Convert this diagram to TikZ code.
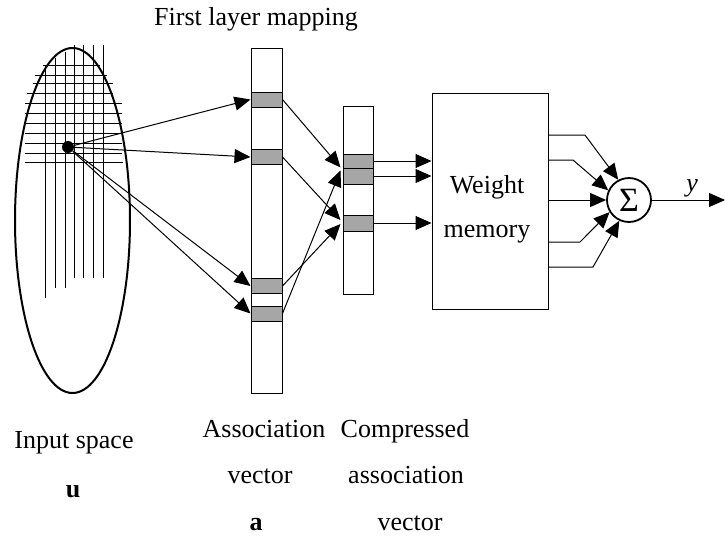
\documentclass[tikz,border=0pt]{standalone}
\usepackage{fontspec}
\setmainfont{Liberation Serif}
\usetikzlibrary{arrows.meta,shapes.geometric,calc}

\begin{document}
\begin{tikzpicture}[
  x=0.5pt,y=-0.5pt,>={Triangle[length=8pt,width=7pt]},
  font=\fontsize{13}{15}\selectfont,
  wire/.style={->,line width=0.5pt},
  grid line/.style={line width=0.5pt},
  bar/.style={draw,line width=0.5pt,minimum width=15.5pt,inner sep=0pt},
  cell/.style={draw,line width=0.5pt,fill=black!35,minimum width=15.5pt,inner sep=0pt},
  lbl/.style={anchor=base,inner sep=0pt}]
  \useasboundingbox (0,0) rectangle (725,537);

  % input space with its grid
  \node[ellipse,draw,line width=1pt,minimum width=57.5pt,minimum height=172.5pt,inner sep=0pt] (space) at (72.5,220.5) {};
  \foreach \y/\xa/\xb in {65/43/100,75/35/107,83/33/113,93/27/113,103/25/122,113/25/122,
                          123/25/122,133/25/122,143/25/122,153/25/122,162/25/123}
    \draw[grid line] (\xa,\y) -- (\xb,\y);
  \foreach \x/\ya/\yb in {45/65/298,55/58/288,65/52/288,74/45/278,83/45/278,93/45/278,103/45/278}
    \draw[grid line] (\x,\ya) -- (\x,\yb);
  \node[circle,fill,inner sep=0pt,minimum size=6pt] (pt) at (68,147) {};

  % association vector
  \node[bar,minimum height=172.5pt] (avec) at (266.5,220.5) {};
  \node[cell,minimum height=7.5pt] (a1) at (266.5,99.5) {};
  \node[cell,minimum height=7.5pt] (a2) at (266.5,157) {};
  \node[cell,minimum height=7.5pt] (a3) at (266.5,286) {};
  \node[cell,minimum height=7.5pt] (a4) at (266.5,313.5) {};

  % compressed association vector
  \node[bar,minimum width=15pt,minimum height=94pt] (cvec) at (358,200) {};
  \node[cell,minimum width=15pt,minimum height=7pt] (cc1) at (358,161) {};
  \node[cell,minimum width=15pt,minimum height=8pt] (cc2) at (358,176) {};
  \node[cell,minimum width=15pt,minimum height=8pt] (cc3) at (358,223) {};

  % weight memory and sum
  \node[draw,line width=0.5pt,minimum width=58pt,minimum height=108pt] (wm) at (490,201) {};
  \node[align=center,font=\fontsize{13}{22}\selectfont] (wmtxt) at (487,209) {Weight\\memory};
  \node[circle,draw,line width=0.9pt,minimum size=22pt,inner sep=0pt,font=\fontsize{17}{17}\selectfont] (sum) at (629,200) {Σ};
  \coordinate (out) at (725,200);

  \foreach \c in {a1,a2,a3,a4}
    \draw[wire] (pt) -- (\c.west);
  \draw[wire] (a1.east) -- ($(cc1.south west)+(-2,-1)$);
  \draw[wire] (a4.east) -- ($(cc1.south west)+(-2,2)$);
  \draw[wire] (a2.east) -- ($(cc3.west)+(-2,-3)$);
  \draw[wire] (a3.east) -- ($(cc3.west)+(-2,1)$);
  \foreach \c in {cc1,cc2,cc3}
    \draw[wire] (\c.east) -- (\c.east -| wm.west);

  \draw[wire] (wm.east |- 0,135) -- (585,135) -- (sum.118);
  \draw[wire] (wm.east |- 0,160) -- (573,160) -- (sum.155);
  \draw[wire] (wm.east |- sum.west) -- (sum.west);
  \draw[wire] (wm.east |- 0,242) -- (580,242) -- (sum.212);
  \draw[wire] (wm.east |- 0,267) -- (593,267) -- (sum.245);
  \draw[wire] (sum.east) -- node[pos=0.55,above,inner sep=1pt] (ylbl) {\textit{y}} (out);

  % captions
  \node[lbl] (ttl) at (256,25) {First layer mapping};
  \node[lbl] (inp) at (74,448) {Input space};
  \node[lbl] (u) at (73,497) {\textbf{u}};
  \node[lbl] (as1) at (264,437) {Association};
  \node[lbl] (as2) at (260,483) {vector};
  \node[lbl] (as3) at (256,530) {\textbf{a}};
  \node[lbl] (cp1) at (405,437) {Compressed};
  \node[lbl] (cp2) at (406,483) {association};
  \node[lbl] (cp3) at (410,530) {vector};
\end{tikzpicture}
\end{document}
